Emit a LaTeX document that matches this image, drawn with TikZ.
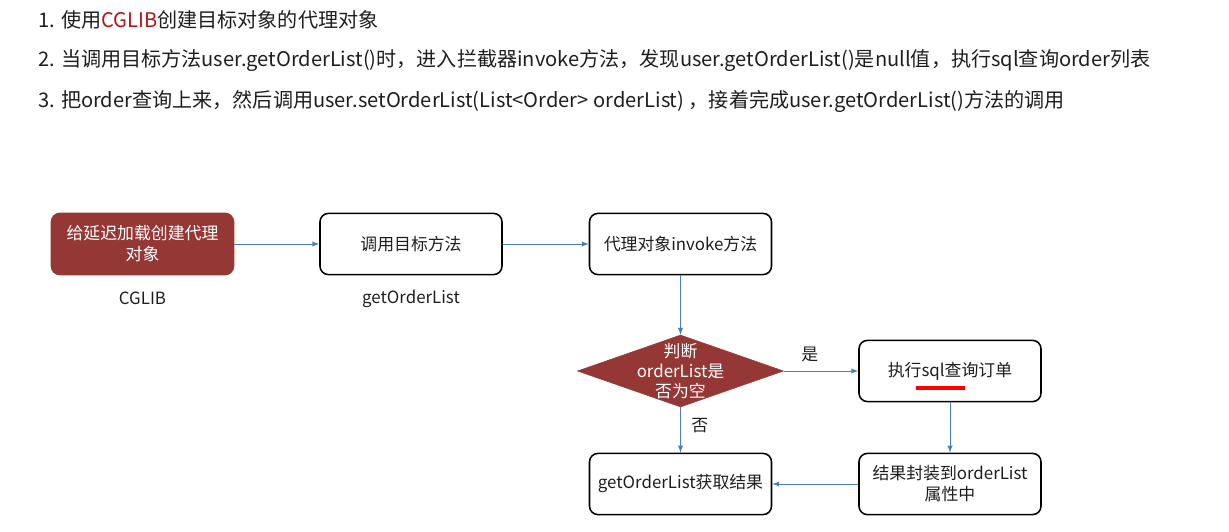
\documentclass[tikz,border=0pt]{standalone}
\usepackage{fontspec}
\setmainfont{Noto Sans CJK SC}
\usepackage{tikz}
\usetikzlibrary{arrows,positioning,shapes.geometric}
\definecolor{boxred}{RGB}{149,55,53}
\definecolor{lineblue}{RGB}{74,126,187}
\definecolor{cgred}{RGB}{180,20,20}
\definecolor{txt}{RGB}{30,30,30}

\begin{document}
\begin{tikzpicture}[>=latex,font=\fontsize{12pt}{15pt}\selectfont,text=txt,
    stepbox/.style={draw=black,line width=1.1pt,rounded corners=6pt,minimum width=4.55cm,minimum height=1.53cm,fill=white,align=center},
    redbox/.style={stepbox,draw=boxred,fill=boxred,text=white},
    decision/.style={diamond,draw=boxred,fill=boxred,minimum width=5.15cm,minimum height=1.8cm,inner sep=0pt},
    line/.style={->,draw=lineblue,line width=0.7pt},
    note/.style={anchor=west,inner sep=0pt,font=\fontsize{14.3pt}{17pt}\selectfont}]
    \useasboundingbox (0,0) rectangle (30.725,13.275);
    % steps at the top
    \node[note] (l1) at (0.95,12.775) {1. 使用\textcolor{cgred}{CGLIB}创建目标对象的代理对象};
    \node[note] (l2) at (0.95,11.75) {2. 当调用目标方法user.getOrderList()时，进入拦截器invoke方法，发现user.getOrderList()是null值，执行sql查询order列表};
    \node[note] (l3) at (0.95,10.75) {3. 把order查询上来，然后调用user.setOrderList(List<Order> orderList) ，接着完成user.getOrderList()方法的调用};

    \node[redbox,label={[label distance=8pt]below:CGLIB}] (a) at (3.5625,7.175) {给延迟加载创建代理\\对象};
    \node[stepbox,label={[label distance=7pt]below:getOrderList}] (b) at (10.275,7.175) {调用目标方法};
    \node[stepbox] (c) at (17.0125,7.175) {代理对象invoke方法};
    \node[decision] (d) at (17.0125,4.0) {};
    \node[text=white,align=center,font=\fontsize{12pt}{14pt}\selectfont] (dtext) at (d) {判断\\orderList是\\否为空};
    \node[stepbox] (e) at (23.75,4.0) {执行sql查询订单};
    \node[stepbox] (f) at (17.0125,1.175) {getOrderList获取结果};
    \node[stepbox] (g) at (23.75,1.175) {结果封装到orderList\\属性中};

    \draw[line] (a) -- (b);
    \draw[line] (b) -- (c);
    \draw[line] (c) -- (d);
    \draw[line] (d) -- node[pos=0.35,above=3pt,text=txt] {是} (e);
    \draw[line] (d) -- node[pos=0.4,right=4pt,text=txt] {否} (f);
    \draw[line] (e) -- (g);
    \draw[line] (g) -- (f);
    \draw[red,line width=2.2pt] (22.9,3.575) -- (24.125,3.575);
\end{tikzpicture}
\end{document}
